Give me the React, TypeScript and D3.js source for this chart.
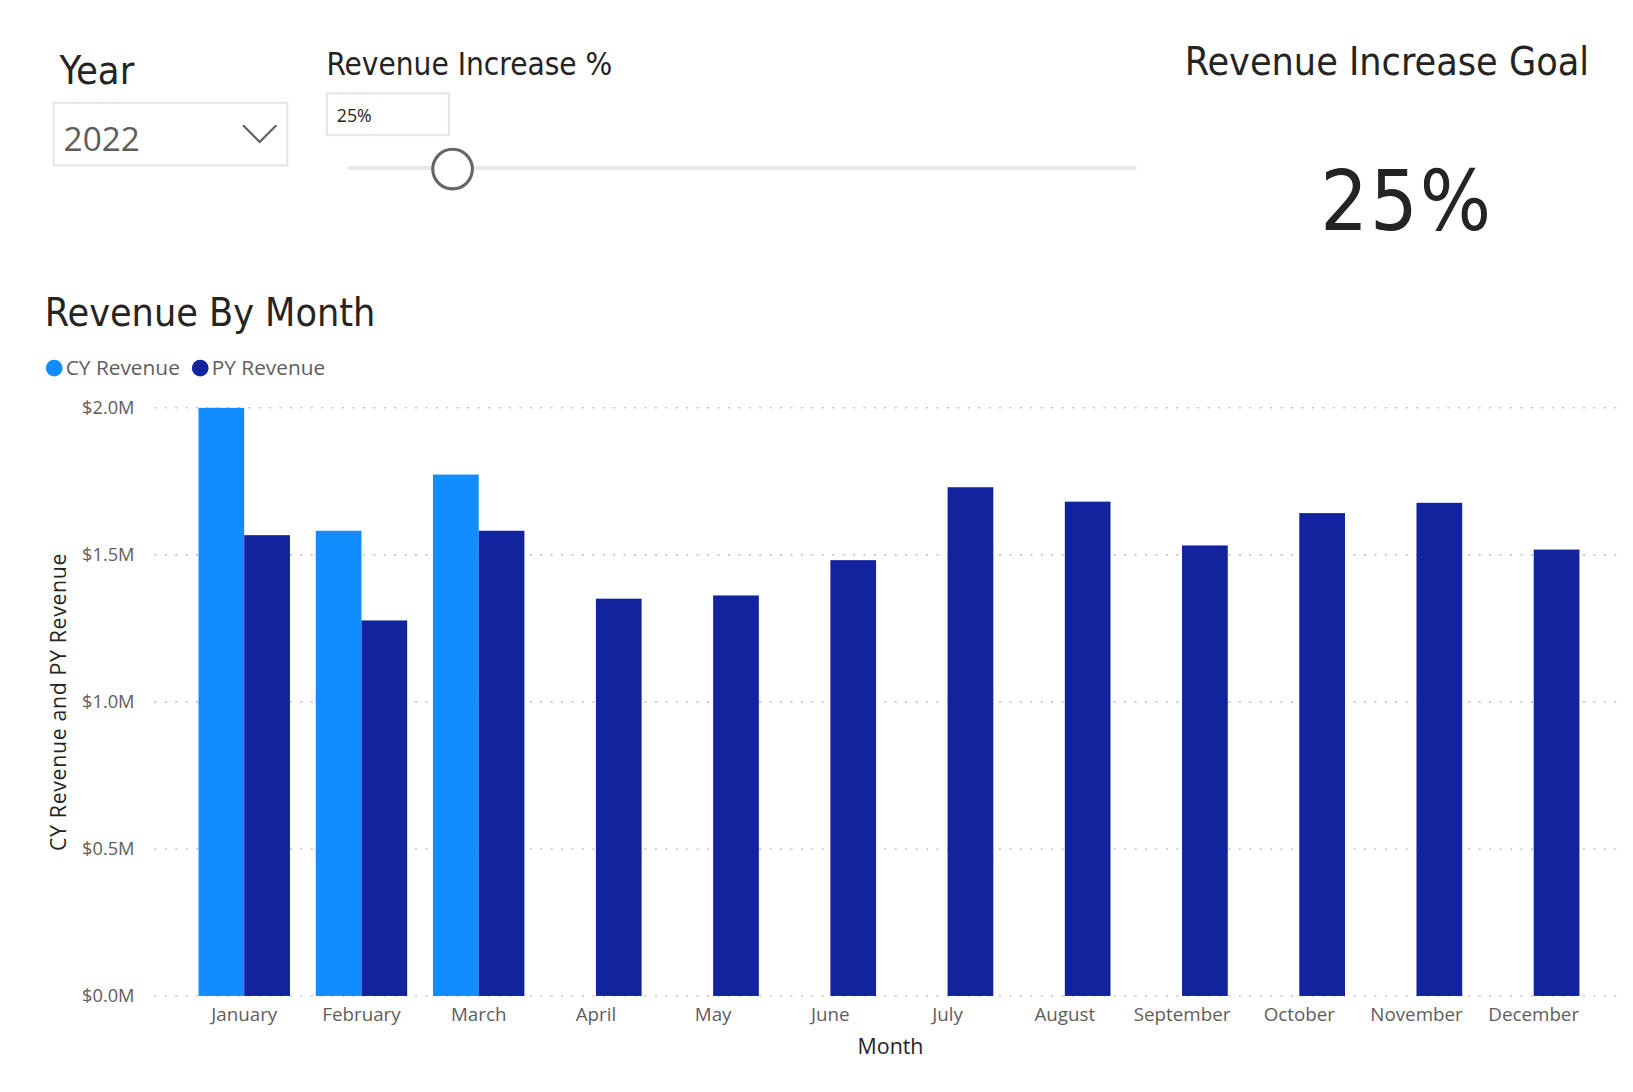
import * as d3 from 'd3';
import { useEffect } from 'react';

const months = [
  'January', 'February', 'March', 'April', 'May', 'June',
  'July', 'August', 'September', 'October', 'November', 'December'
];
const cyRevenue: (number | null)[] = [
  2.0, 1.582, 1.773, null, null, null, null, null, null, null, null, null
];
const pyRevenue = [
  1.567, 1.277, 1.582, 1.351, 1.362, 1.482, 1.73, 1.681, 1.532, 1.642, 1.677, 1.518
];
const yTicks = [0, 0.5, 1.0, 1.5, 2.0];
const seriesNames = ['CY Revenue', 'PY Revenue'];
const seriesColors = ['#118DFF', '#12239E'];

const W = 1633;
const H = 1092;
// layout is drawn in a 1566-wide coordinate space, scaled up to the page
const VW = 1566;
const VH = 1047;
const titleFont = '"DejaVu Sans Condensed", "DejaVu Sans", sans-serif';
const labelFont = '"Open Sans", "Noto Sans", sans-serif';

const App = () => {
  useEffect(() => {
    document.body.style.margin = '0';
  }, []);

  const x0 = d3.scaleBand<string>().domain(months).range([178, 1527]).paddingInner(0.22).paddingOuter(0.11);
  const x1 = d3.scaleBand<string>().domain(seriesNames).range([0, x0.bandwidth()]);
  const y = d3.scaleLinear().domain([0, 2.0]).range([955, 391]);
  const fmt = (v: number) => `$${d3.format('.1f')(v)}M`;

  return (
    <svg width={W} height={H} viewBox={`0 0 ${VW} ${VH}`} style={{ display: 'block', background: '#fff' }}>
      {/* Year slicer */}
      <text x={57} y={80} fontFamily={titleFont} fontSize={38} fill="#252423">Year</text>
      <rect x={51.5} y={98.5} width={224} height={60} fill="#fff" stroke="#E6E6E6" strokeWidth={2} />
      <text x={61} y={145} fontFamily={labelFont} fontSize={32} fill="#605E5C">2022</text>
      <path d="M233,120 L249,136 L265,120" fill="none" stroke="#605E5C" strokeWidth={2} />

      {/* Revenue increase slider */}
      <text x={313} y={72} fontFamily={titleFont} fontSize={30} fill="#252423">Revenue Increase %</text>
      <rect x={313.5} y={89.5} width={117} height={40} fill="#fff" stroke="#E6E6E6" strokeWidth={2} />
      <text x={323} y={117} fontFamily={labelFont} fontSize={17} fill="#252423">25%</text>
      <line x1={333} x2={1090} y1={161} y2={161} stroke="#E8E8E8" strokeWidth={4} />
      <circle cx={434} cy={162} r={19} fill="#fff" stroke="#666666" strokeWidth={3} />

      {/* Card */}
      <text x={1330} y={72} textAnchor="middle" fontFamily={titleFont} fontSize={37.5} fill="#252423">Revenue Increase Goal</text>
      <text x={1349} y={220} textAnchor="middle" fontFamily={titleFont} fontSize={80} letterSpacing={2} fill="#252423">25%</text>

      {/* Chart title & legend */}
      <text x={43} y={313} fontFamily={titleFont} fontSize={37.5} fill="#252423">Revenue By Month</text>
      {seriesNames.map((s, i) => {
        const lx = i === 0 ? 52 : 192;
        return (
          <g key={s}>
            <circle cx={lx} cy={353} r={8} fill={seriesColors[i]} />
            <text x={lx + 11} y={360} fontFamily={labelFont} fontSize={20} fill="#605E5C">{s}</text>
          </g>
        );
      })}

      {/* Gridlines and y labels */}
      {yTicks.map(t => (
        <g key={t}>
          <line x1={148} x2={1555} y1={y(t)} y2={y(t)} stroke="#C8C6C4" strokeWidth={1.5} strokeDasharray="2,8" />
          <text x={129} y={y(t) + 6} textAnchor="end" fontFamily={labelFont} fontSize={17.5} fill="#605E5C">{fmt(t)}</text>
        </g>
      ))}

      {/* Bars */}
      {months.map((m, i) => (
        <g key={m} transform={`translate(${x0(m)},0)`}>
          {cyRevenue[i] != null && (
            <rect x={x1('CY Revenue')} y={y(cyRevenue[i] as number)} width={x1.bandwidth()}
              height={y(0) - y(cyRevenue[i] as number)} fill={seriesColors[0]} />
          )}
          <rect x={x1('PY Revenue')} y={y(pyRevenue[i])} width={x1.bandwidth()}
            height={y(0) - y(pyRevenue[i])} fill={seriesColors[1]} />
          <text x={x0.bandwidth() / 2} y={979} textAnchor="middle" fontFamily={labelFont} fontSize={18} fill="#605E5C">{m}</text>
        </g>
      ))}

      {/* Axis titles */}
      <text x={854} y={1011} textAnchor="middle" fontFamily={labelFont} fontSize={20.5} fill="#252423">Month</text>
      <text transform={`translate(63,${(y(0) + y(2)) / 2}) rotate(-90)`} textAnchor="middle" fontFamily={labelFont} fontSize={20.5} letterSpacing={0.6} fill="#252423">CY Revenue and PY Revenue</text>
    </svg>
  );
};

export default App;
